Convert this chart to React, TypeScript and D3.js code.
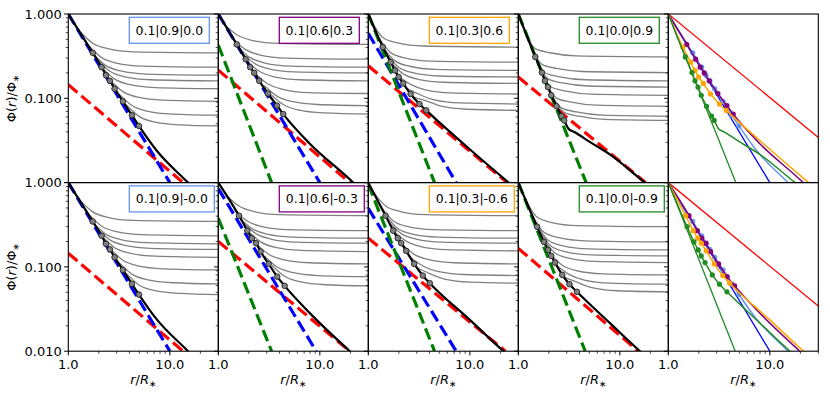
import React from "react";
import * as d3 from "d3";

// ---- labels / ticks ----
const boxLabelsTop = ["0.1|0.9|0.0", "0.1|0.6|0.3", "0.1|0.3|0.6", "0.1|0.0|0.9"];
const boxLabelsBottom = ["0.1|0.9|-0.0", "0.1|0.6|-0.3", "0.1|0.3|-0.6", "0.1|0.0|-0.9"];
const boxColors = ["#6495ED", "#800080", "#FFA500", "#228B22"];

const xMajor = [1, 10];
const xMajorLabels = ["1.0", "10.0"];
const xMinor = [2, 3, 4, 5, 6, 7, 8, 9, 20, 30];
const yMajor = [1, 0.1, 0.01];
const yMajorLabels = ["1.000", "0.100", "0.010"];
const yMinor = [0.02, 0.03, 0.04, 0.05, 0.06, 0.07, 0.08, 0.09, 0.2, 0.3, 0.4, 0.5, 0.6, 0.7, 0.8, 0.9];

// ---- top row data ----
const dotsT1 = [[1.74, 0.346], [2.13, 0.234], [2.35, 0.188], [2.57, 0.161], [2.86, 0.13], [3.45, 0.092], [4.23, 0.063], [4.96, 0.047]];
const blackT1 = [[1, 1], [1.74, 0.346], [2.13, 0.234], [2.35, 0.188], [2.57, 0.161], [2.86, 0.13], [3.45, 0.092], [4.23, 0.063], [4.96, 0.047], [7.4, 0.024], [15.1, 0.01], [30, 0.0043]];
const greyT1 = [
  [[1.31, 0.616], [1.74, 0.45], [2.44, 0.388], [4.35, 0.356], [30, 0.346]],
  [[1.6, 0.417], [2.13, 0.304], [2.98, 0.262], [5.33, 0.241], [30, 0.234]],
  [[1.76, 0.335], [2.35, 0.244], [3.29, 0.211], [5.88, 0.194], [30, 0.188]],
  [[1.93, 0.287], [2.57, 0.209], [3.6, 0.18], [6.43, 0.166], [30, 0.161]],
  [[2.15, 0.231], [2.86, 0.169], [4.0, 0.146], [7.15, 0.134], [30, 0.13]],
  [[2.59, 0.164], [3.45, 0.12], [4.83, 0.103], [8.63, 0.095], [30, 0.092]],
  [[3.17, 0.112], [4.23, 0.082], [5.92, 0.0706], [10.6, 0.0649], [30, 0.063]],
  [[3.72, 0.0837], [4.96, 0.0611], [6.94, 0.0526], [12.4, 0.0484], [30, 0.047]],
];
const redT1 = [[1, 0.145], [13.5, 0.01]];
const blueT1 = [[1, 1], [10, 0.01]];

const dotsT2 = [[1.52, 0.436], [1.86, 0.291], [2.06, 0.234], [2.26, 0.2], [2.53, 0.161], [3.08, 0.114], [3.78, 0.0819], [4.36, 0.065]];
const blackT2 = [[1, 1], [1.52, 0.436], [1.86, 0.291], [2.06, 0.234], [2.26, 0.2], [2.53, 0.161], [3.08, 0.114], [3.78, 0.0819], [4.36, 0.065], [7.97, 0.0289], [21.3, 0.01], [30, 0.0066]];
const greyT2 = [
  [[1.14, 0.754], [1.52, 0.567], [2.13, 0.488], [3.8, 0.449], [30, 0.436]],
  [[1.4, 0.503], [1.86, 0.378], [2.6, 0.326], [4.65, 0.3], [30, 0.291]],
  [[1.55, 0.405], [2.06, 0.304], [2.88, 0.262], [5.15, 0.241], [30, 0.234]],
  [[1.7, 0.346], [2.26, 0.26], [3.16, 0.224], [5.65, 0.206], [30, 0.2]],
  [[1.9, 0.279], [2.53, 0.209], [3.54, 0.18], [6.33, 0.166], [30, 0.161]],
  [[2.31, 0.197], [3.08, 0.148], [4.31, 0.128], [7.7, 0.117], [30, 0.114]],
  [[2.84, 0.142], [3.78, 0.106], [5.29, 0.0917], [9.45, 0.0844], [30, 0.0819]],
  [[3.27, 0.112], [4.36, 0.0845], [6.1, 0.0728], [10.9, 0.067], [30, 0.065]],
];
const redT2 = [[1, 0.216], [19.7, 0.01]];
const blueT2 = [[1, 1], [10, 0.01]];
const greenT2 = [[1, 0.428], [3.35, 0.01]];

const dotsT3 = [[1.39, 0.405], [1.66, 0.268], [1.83, 0.214], [1.99, 0.179], [2.21, 0.15], [2.61, 0.1125], [3.19, 0.0855], [3.72, 0.0719]];
const blackT3 = [[1, 1], [1.39, 0.405], [1.66, 0.268], [1.83, 0.214], [1.99, 0.179], [2.21, 0.15], [2.61, 0.1125], [3.19, 0.0855], [3.72, 0.0719], [10.1, 0.0245], [24.1, 0.01], [30, 0.008]];
const greyT3 = [
  [[1.04, 0.893], [1.39, 0.527], [1.95, 0.454], [3.48, 0.417], [30, 0.405]],
  [[1.245, 0.548], [1.66, 0.348], [2.32, 0.3], [4.15, 0.276], [30, 0.268]],
  [[1.37, 0.42], [1.83, 0.278], [2.56, 0.24], [4.58, 0.22], [30, 0.214]],
  [[1.49, 0.343], [1.99, 0.233], [2.79, 0.2], [4.98, 0.184], [30, 0.179]],
  [[1.66, 0.268], [2.21, 0.195], [3.09, 0.168], [5.53, 0.155], [30, 0.15]],
  [[1.96, 0.185], [2.61, 0.146], [3.65, 0.126], [6.53, 0.116], [30, 0.1125]],
  [[2.39, 0.131], [3.19, 0.111], [4.47, 0.0958], [7.98, 0.0881], [30, 0.0855]],
  [[2.79, 0.1026], [3.72, 0.0935], [5.21, 0.0805], [9.3, 0.0741], [30, 0.0719]],
];
const redT3 = [[1, 0.243], [23.3, 0.01]];
const blueT3 = [[1, 0.589], [7.33, 0.01]];
const greenT3 = [[1, 1], [4.49, 0.01]];

const dotsT4 = [[1.47, 0.31], [1.71, 0.202], [1.83, 0.161], [1.96, 0.136], [2.11, 0.1086], [2.38, 0.0804], [2.67, 0.0615], [2.83, 0.0547]];
const blackT4 = [[1, 1], [1.47, 0.31], [1.71, 0.202], [1.83, 0.161], [1.96, 0.136], [2.11, 0.1086], [2.38, 0.0804], [2.67, 0.0615], [2.83, 0.0547], [3.12, 0.0436], [3.6, 0.0395], [5.1, 0.0302], [8.03, 0.0215], [17.7, 0.01], [30, 0.0062]];
const greyT4 = [
  [[1.1, 0.745], [1.47, 0.388], [2.06, 0.347], [3.68, 0.319], [30, 0.31]],
  [[1.28, 0.469], [1.71, 0.253], [2.39, 0.226], [4.28, 0.208], [30, 0.202]],
  [[1.37, 0.382], [1.83, 0.201], [2.56, 0.18], [4.58, 0.166], [30, 0.161]],
  [[1.47, 0.31], [1.96, 0.17], [2.74, 0.152], [4.9, 0.14], [30, 0.136]],
  [[1.58, 0.252], [2.11, 0.136], [2.95, 0.122], [5.28, 0.112], [30, 0.1086]],
  [[1.79, 0.174], [2.38, 0.1005], [3.33, 0.09], [5.95, 0.0828], [30, 0.0804]],
  [[2.0, 0.127], [2.67, 0.0769], [3.74, 0.0689], [6.68, 0.0633], [30, 0.0615]],
  [[2.12, 0.107], [2.83, 0.0684], [3.96, 0.0613], [7.08, 0.0563], [30, 0.0547]],
];
const redT4 = [[1, 0.179], [17.9, 0.01]];
const greenT4 = [[1, 1], [4.66, 0.01]];

// ---- bottom row data ----
const dotsB2 = [[1.6, 0.405], [1.93, 0.269], [2.14, 0.219], [2.35, 0.191], [2.61, 0.152], [3.13, 0.1086], [3.8, 0.0767], [4.5, 0.0596]];
const blackB2 = [[1, 1], [1.6, 0.405], [1.93, 0.269], [2.14, 0.219], [2.35, 0.191], [2.61, 0.152], [3.13, 0.1086], [3.8, 0.0767], [4.5, 0.0596], [7.97, 0.0283], [19.7, 0.01], [30, 0.0063]];
const greyB2 = [
  [[1.2, 0.709], [1.6, 0.527], [2.24, 0.454], [4.0, 0.417], [30, 0.405]],
  [[1.45, 0.471], [1.93, 0.35], [2.7, 0.301], [4.83, 0.277], [30, 0.269]],
  [[1.61, 0.383], [2.14, 0.285], [3.0, 0.245], [5.35, 0.226], [30, 0.219]],
  [[1.76, 0.334], [2.35, 0.248], [3.29, 0.214], [5.88, 0.197], [30, 0.191]],
  [[1.96, 0.266], [2.61, 0.198], [3.65, 0.17], [6.53, 0.157], [30, 0.152]],
  [[2.35, 0.19], [3.13, 0.141], [4.38, 0.122], [7.83, 0.112], [30, 0.1086]],
  [[2.85, 0.134], [3.8, 0.0997], [5.32, 0.0859], [9.5, 0.079], [30, 0.0767]],
  [[3.38, 0.104], [4.5, 0.0775], [6.3, 0.0668], [11.3, 0.0614], [30, 0.0596]],
];
const redB2 = [[1, 0.2], [19.7, 0.01]];
const blueB2 = [[1, 0.85], [9.2, 0.01]];
const greenB2 = [[1, 0.377], [3.35, 0.01]];

const dotsB3 = [[1.48, 0.405], [1.76, 0.269], [1.95, 0.219], [2.11, 0.191], [2.36, 0.155], [2.83, 0.1086], [3.44, 0.0789], [4.03, 0.0641]];
const blackB3 = [[1, 1], [1.48, 0.405], [1.76, 0.269], [1.95, 0.219], [2.11, 0.191], [2.36, 0.155], [2.83, 0.1086], [3.44, 0.0789], [4.03, 0.0641], [10, 0.0235], [21.5, 0.01], [30, 0.0071]];
const greyB3 = [
  [[1.11, 0.787], [1.48, 0.527], [2.07, 0.454], [3.7, 0.417], [30, 0.405]],
  [[1.32, 0.525], [1.76, 0.35], [2.46, 0.301], [4.4, 0.277], [30, 0.269]],
  [[1.46, 0.416], [1.95, 0.285], [2.73, 0.245], [4.88, 0.226], [30, 0.219]],
  [[1.58, 0.346], [2.11, 0.248], [2.95, 0.214], [5.28, 0.197], [30, 0.191]],
  [[1.77, 0.267], [2.36, 0.202], [3.3, 0.174], [5.9, 0.16], [30, 0.155]],
  [[2.12, 0.188], [2.83, 0.141], [3.96, 0.122], [7.08, 0.112], [30, 0.1086]],
  [[2.58, 0.13], [3.44, 0.1026], [4.82, 0.0884], [8.6, 0.0813], [30, 0.0789]],
  [[3.02, 0.0977], [4.03, 0.0833], [5.64, 0.0718], [10.1, 0.066], [30, 0.0641]],
];
const redB3 = [[1, 0.219], [22.4, 0.01]];
const blueB3 = [[1, 0.495], [7.33, 0.01]];
const greenB3 = [[1, 0.95], [4.49, 0.01]];

const dotsB4 = [[1.53, 0.3], [1.79, 0.198], [1.97, 0.159], [2.11, 0.135], [2.3, 0.1125], [2.71, 0.0804], [3.19, 0.0624], [3.78, 0.0506]];
const blackB4 = [[1, 1], [1.53, 0.3], [1.79, 0.198], [1.97, 0.159], [2.11, 0.135], [2.3, 0.1125], [2.71, 0.0804], [3.19, 0.0624], [3.78, 0.0506], [8, 0.0215], [15.8, 0.01], [30, 0.0052]];
const greyB4 = [
  [[1.15, 0.676], [1.53, 0.39], [2.14, 0.336], [3.83, 0.309], [30, 0.3]],
  [[1.34, 0.435], [1.79, 0.257], [2.51, 0.222], [4.48, 0.204], [30, 0.198]],
  [[1.48, 0.333], [1.97, 0.207], [2.76, 0.178], [4.93, 0.164], [30, 0.159]],
  [[1.58, 0.275], [2.11, 0.1755], [2.95, 0.151], [5.28, 0.139], [30, 0.135]],
  [[1.73, 0.218], [2.3, 0.146], [3.22, 0.126], [5.75, 0.116], [30, 0.1125]],
  [[2.03, 0.147], [2.71, 0.1045], [3.79, 0.09], [6.78, 0.0828], [30, 0.0804]],
  [[2.39, 0.1038], [3.19, 0.0811], [4.47, 0.0699], [7.98, 0.0643], [30, 0.0624]],
  [[2.83, 0.0752], [3.78, 0.0658], [5.29, 0.0567], [9.45, 0.0521], [30, 0.0506]],
];
const redB4 = [[1, 0.166], [15.2, 0.01]];
const greenB4 = [[1, 1], [4.56, 0.01]];

// right-hand comparison panels
const refRed = [[1, 1], [30, 0.0343]];
const refBlue = [[1, 1], [10, 0.01]];
const refGreenTop = [[1, 1], [4.62, 0.01]];
const refGreenBottom = [[1, 1], [4.56, 0.01]];

// panels of each row (bottom-left panel repeats the top-left one: -0.0 == 0.0)
const topPanels = [
  { black: blackT1, dots: dotsT1, grey: greyT1, red: redT1, blue: blueT1, green: null },
  { black: blackT2, dots: dotsT2, grey: greyT2, red: redT2, blue: blueT2, green: greenT2 },
  { black: blackT3, dots: dotsT3, grey: greyT3, red: redT3, blue: blueT3, green: greenT3 },
  { black: blackT4, dots: dotsT4, grey: greyT4, red: redT4, blue: null, green: greenT4 },
];
const bottomPanels = [
  { black: blackT1, dots: dotsT1, grey: greyT1, red: redT1, blue: blueT1, green: null },
  { black: blackB2, dots: dotsB2, grey: greyB2, red: redB2, blue: blueB2, green: greenB2 },
  { black: blackB3, dots: dotsB3, grey: greyB3, red: redB3, blue: blueB3, green: greenB3 },
  { black: blackB4, dots: dotsB4, grey: greyB4, red: redB4, blue: null, green: greenB4 },
];

const W = 830;
const H = 399;
const left0 = 68.3;
const panelW = 150;
const panelH = 168.6;
const rowTops = [14, 182.6];
const font = "DejaVu Sans, sans-serif";

const App = () => {
  const rows = [
    { panels: topPanels, labels: boxLabelsTop, boxW: 80, refGreen: refGreenTop, showX: false, yLabels: [0, 1] },
    { panels: bottomPanels, labels: boxLabelsBottom, boxW: 85, refGreen: refGreenBottom, showX: true, yLabels: [0, 1, 2] },
  ];

  return (
    <div style={{ position: "absolute", left: 0, top: 0 }}>
      <svg width={W} height={H} style={{ display: "block", background: "#fff" }} fontFamily={font}>
        <defs>
          {rows.map((row, ri) =>
            d3.range(5).map((ci) => (
              <clipPath id={`clip-${ri}-${ci}`} key={`c${ri}${ci}`}>
                <rect x={left0 + ci * panelW} y={rowTops[ri]} width={panelW} height={panelH} />
              </clipPath>
            ))
          )}
        </defs>
        {rows.map((row, ri) => {
          const top = rowTops[ri];
          const y = d3.scaleLog().domain([0.01, 1]).range([top + panelH, top]);
          return (
            <g key={ri}>
              {d3.range(5).map((ci) => {
                const x0 = left0 + ci * panelW;
                const x = d3.scaleLog().domain([1, 30]).range([x0, x0 + panelW]);
                const smooth = d3
                  .line<number[]>()
                  .x((d) => x(d[0]))
                  .y((d) => y(d[1]))
                  .curve(d3.curveMonotoneX);
                const straight = d3
                  .line<number[]>()
                  .x((d) => x(d[0]))
                  .y((d) => y(d[1]));
                const dash = "12,5.2";

                let content;
                if (ci < 4) {
                  const p = row.panels[ci];
                  content = (
                    <g clipPath={`url(#clip-${ri}-${ci})`}>
                      {p.grey.map((g, gi) => (
                        <path key={gi} d={smooth(g) || ""} fill="none" stroke="#808080" strokeWidth={1.3} />
                      ))}
                      <path d={straight(p.red) || ""} fill="none" stroke="#ff0000" strokeWidth={3.2} strokeDasharray={dash} />
                      {p.blue && (
                        <path d={straight(p.blue) || ""} fill="none" stroke="#0000ff" strokeWidth={3.2} strokeDasharray={dash} />
                      )}
                      {p.green && (
                        <path d={straight(p.green) || ""} fill="none" stroke="#008000" strokeWidth={3.2} strokeDasharray={dash} />
                      )}
                      <path d={smooth(p.black) || ""} fill="none" stroke="#000" strokeWidth={2.2} />
                      {p.dots.map((d, di) => (
                        <circle key={di} cx={x(d[0])} cy={y(d[1])} r={2.8} fill="#808080" stroke="#222" strokeWidth={0.9} />
                      ))}
                    </g>
                  );
                } else {
                  content = (
                    <g clipPath={`url(#clip-${ri}-${ci})`}>
                      <path d={straight(refRed) || ""} fill="none" stroke="#ff0000" strokeWidth={1.3} />
                      <path d={straight(refBlue) || ""} fill="none" stroke="#0000ff" strokeWidth={1.3} />
                      <path d={straight(row.refGreen) || ""} fill="none" stroke="#228B22" strokeWidth={1.3} />
                      {row.panels.map((p, pi) => (
                        <g key={pi}>
                          <path d={smooth(p.black) || ""} fill="none" stroke={boxColors[pi]} strokeWidth={1.5} />
                          {p.dots.map((d, di) => (
                            <circle key={di} cx={x(d[0])} cy={y(d[1])} r={2.6} fill={boxColors[pi]} />
                          ))}
                        </g>
                      ))}
                    </g>
                  );
                }

                return (
                  <g key={ci}>
                    {content}
                    {ci < 4 && (
                      <g>
                        <rect
                          x={x0 + 61}
                          y={top + 3.3}
                          width={row.boxW}
                          height={26}
                          fill="#fff"
                          stroke={boxColors[ci]}
                          strokeWidth={1.3}
                        />
                        <text
                          x={x0 + 61 + row.boxW / 2}
                          y={top + 3.3 + 17.5}
                          fontSize={12.4}
                          textAnchor="middle"
                          fill="#000"
                        >
                          {row.labels[ci]}
                        </text>
                      </g>
                    )}
                    <rect x={x0} y={top} width={panelW} height={panelH} fill="none" stroke="#000" strokeWidth={1.1} />
                    {/* y ticks */}
                    {yMajor.map((t) => (
                      <line key={`ym${t}`} x1={x0 - 4.2} x2={x0} y1={y(t)} y2={y(t)} stroke="#000" strokeWidth={1} />
                    ))}
                    {yMinor.map((t) => (
                      <line key={`yn${t}`} x1={x0 - 2.6} x2={x0} y1={y(t)} y2={y(t)} stroke="#000" strokeWidth={0.7} />
                    ))}
                    {ci === 0 &&
                      row.yLabels.map((i) => (
                        <text key={`yl${i}`} x={x0 - 6.5} y={y(yMajor[i]) + 4.6} fontSize={13} textAnchor="end">
                          {yMajorLabels[i]}
                        </text>
                      ))}
                    {/* x ticks on bottom row */}
                    {row.showX && (
                      <g>
                        {xMajor.map((t) => (
                          <line key={`xm${t}`} x1={x(t)} x2={x(t)} y1={top + panelH} y2={top + panelH + 4.2} stroke="#000" strokeWidth={1} />
                        ))}
                        {xMinor.map((t) => (
                          <line key={`xn${t}`} x1={x(t)} x2={x(t)} y1={top + panelH} y2={top + panelH + 2.6} stroke="#000" strokeWidth={0.7} />
                        ))}
                        {xMajor.map((t, i) => (
                          <text key={`xl${t}`} x={x(t)} y={top + panelH + 17.8} fontSize={13} textAnchor="middle">
                            {xMajorLabels[i]}
                          </text>
                        ))}
                        <text x={x0 + panelW / 2} y={top + panelH + 33} fontSize={13} textAnchor="middle">
                          <tspan fontStyle="italic">r</tspan>
                          <tspan>/</tspan>
                          <tspan fontStyle="italic">R</tspan>
                          <tspan fontSize={9} dy={3}>∗</tspan>
                        </text>
                      </g>
                    )}
                  </g>
                );
              })}
              <text
                transform={`translate(16,${top + panelH / 2}) rotate(-90)`}
                fontSize={13}
                textAnchor="middle"
              >
                <tspan>Φ(</tspan>
                <tspan fontStyle="italic">r</tspan>
                <tspan>)/Φ</tspan>
                <tspan fontSize={9} dy={3}>∗</tspan>
              </text>
            </g>
          );
        })}
      </svg>
    </div>
  );
};

export default App;
